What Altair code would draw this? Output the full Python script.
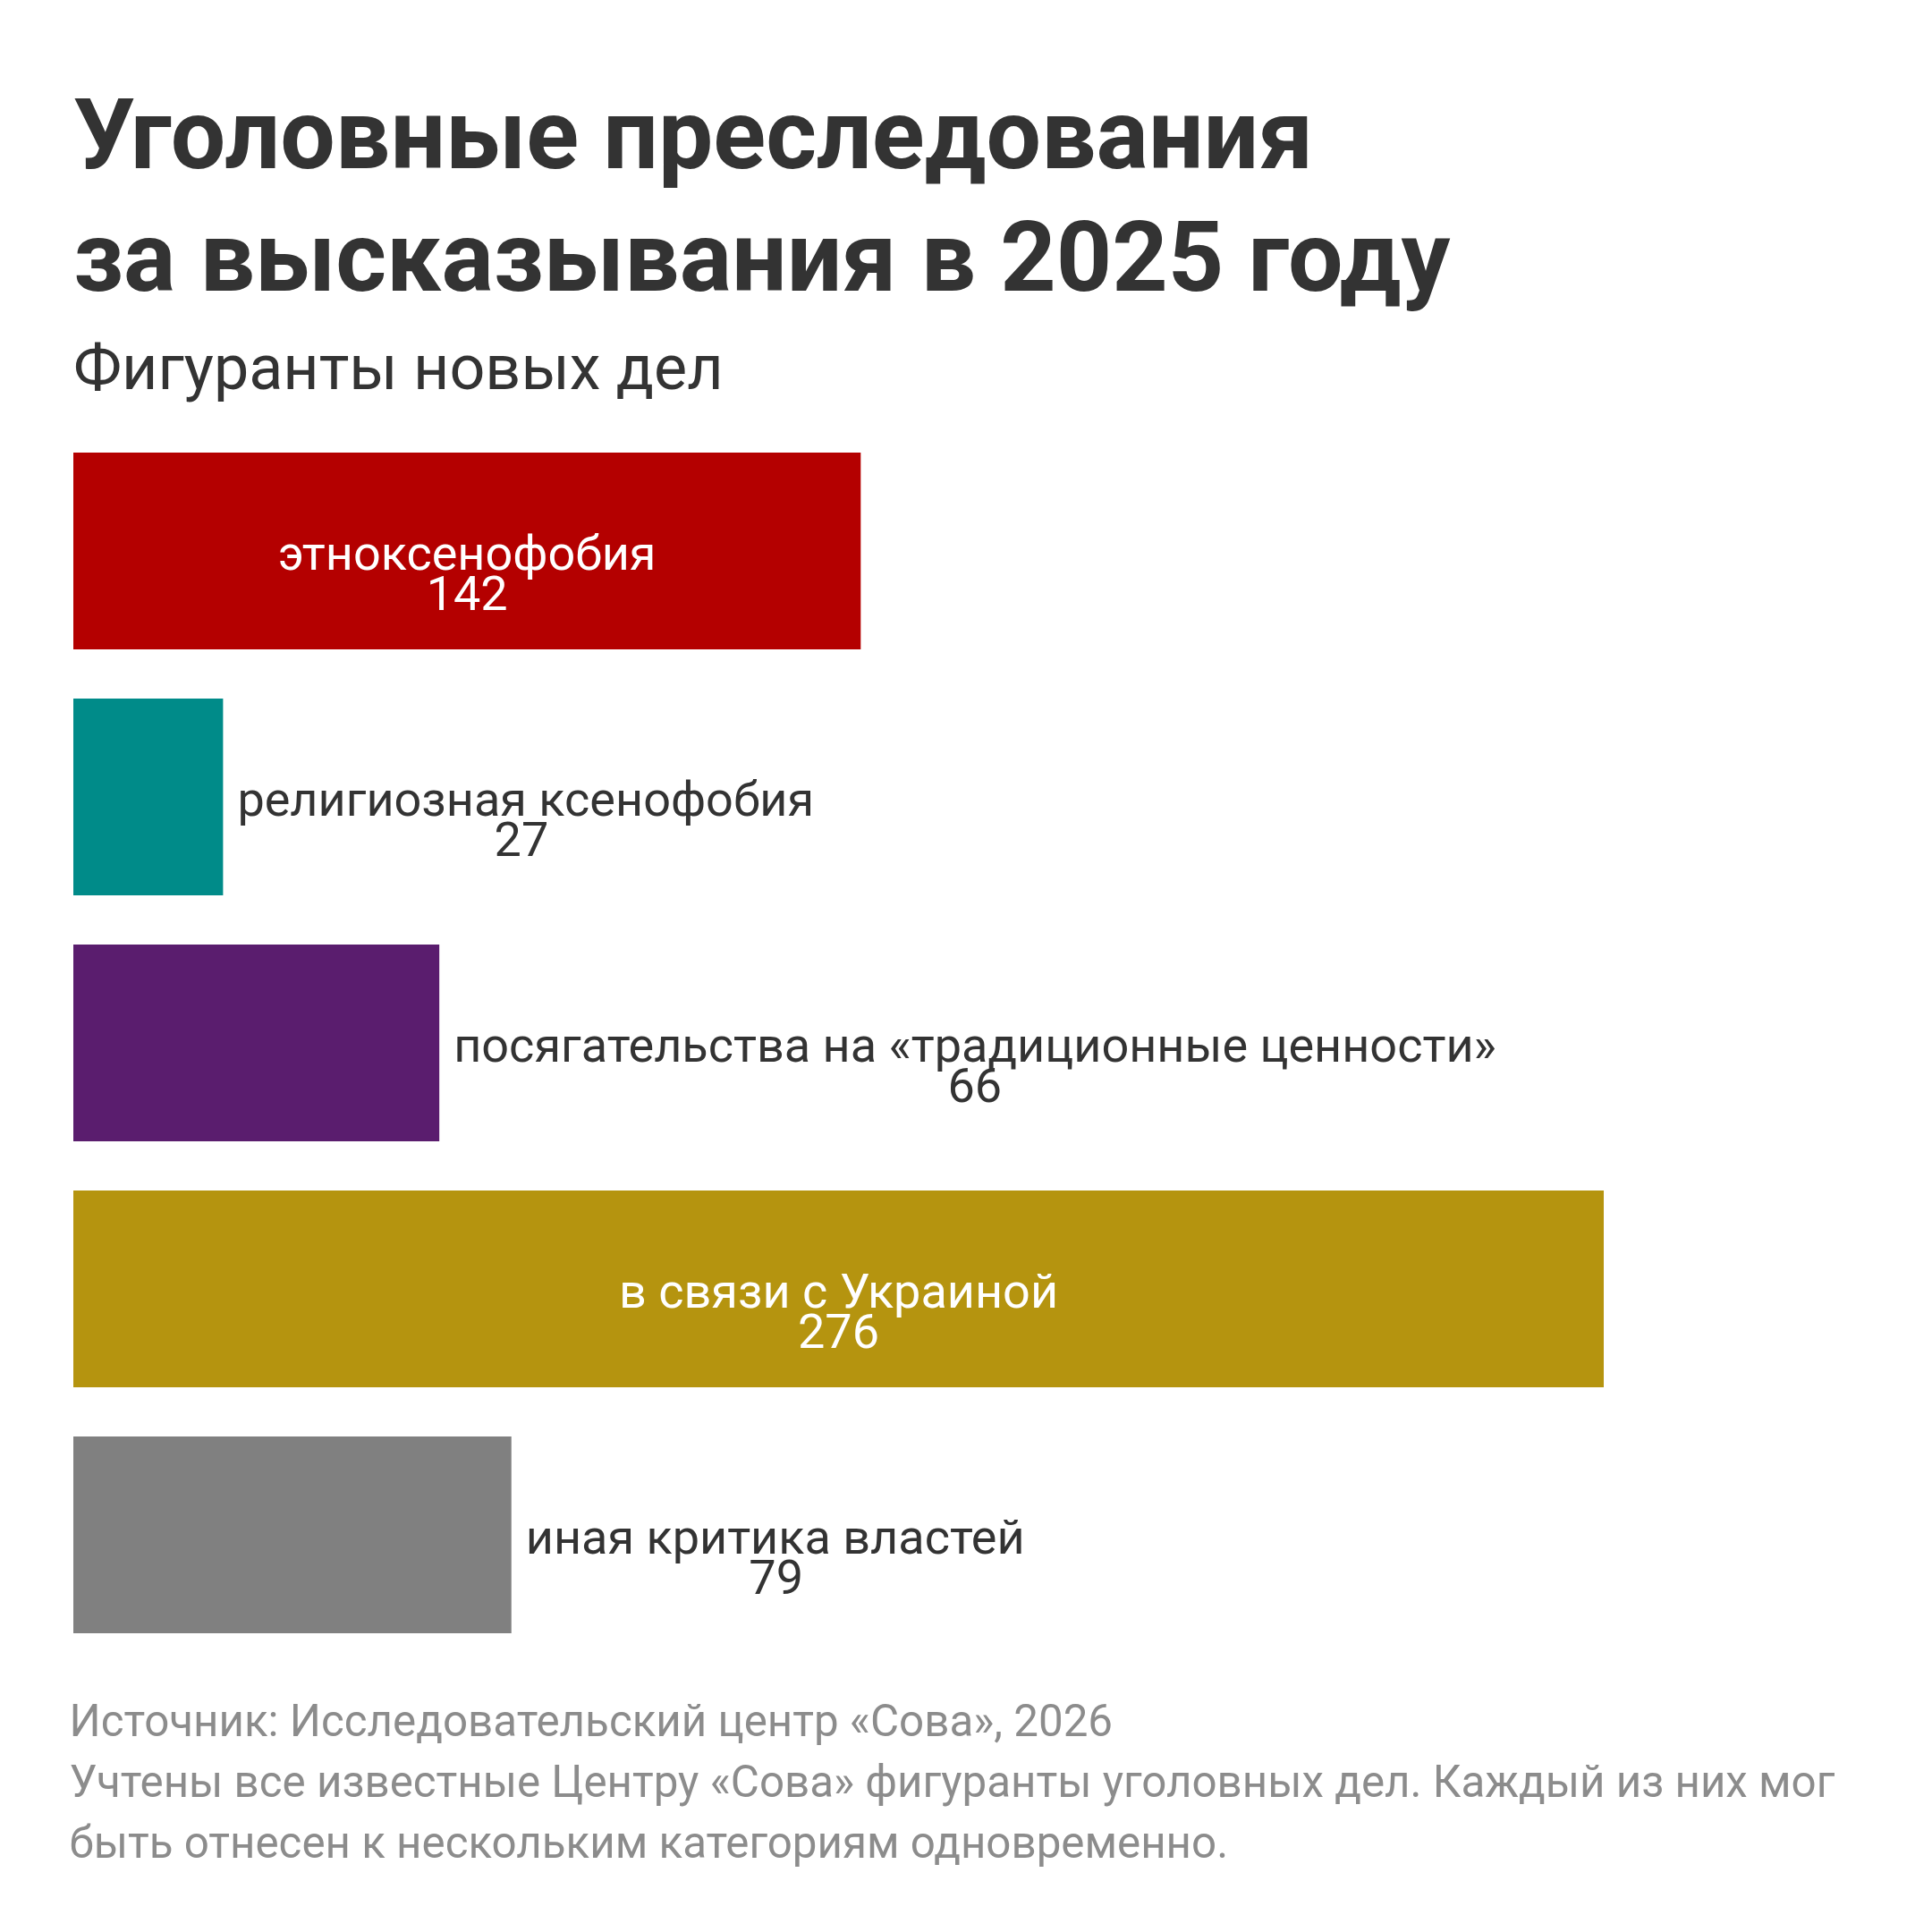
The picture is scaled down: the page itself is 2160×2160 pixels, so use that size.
import altair as alt
import pandas as pd

# ---- data ----
categories = [
    "этноксенофобия",
    "религиозная ксенофобия",
    "посягательства на «традиционные ценности»",
    "в связи с Украиной",
    "иная критика властей",
]
counts = [142, 27, 66, 276, 79]
colors = ["#b40000", "#008b89", "#5a1d6e", "#b5940f", "#808080"]

title_lines = ["Уголовные преследования", "за высказывания в 2025 году"]
subtitle_text = "Фигуранты новых дел"
footer_lines = [
    "Источник: Исследовательский центр «Сова», 2026",
    "Учтены все известные Центру «Сова» фигуранты уголовных дел. Каждый из них мог",
    "быть отнесен к нескольким категориям одновременно.",
]

# ---- style ----
FONT = "Roboto"
W, H = 1711, 1320
LABEL_SIZE = 54
CHAR_W = 29.6          # approx. advance of a non-space character in the label font (px)
SPACE_W = 13.5         # approx. advance of a space (px)
GAP = 16               # gap between bar end and outside label (px)
px_per_unit = W / max(counts)

df = pd.DataFrame({"cat": categories, "n": counts})

yenc = alt.Y(
    "cat:N",
    sort=categories,
    axis=None,
    scale=alt.Scale(paddingInner=0.2, paddingOuter=0),
)
xscale = alt.Scale(domain=[0, max(counts)], nice=False, zero=True)

base = alt.Chart(df)

bars = base.mark_bar().encode(
    y=yenc,
    x=alt.X(
        "n:Q",
        scale=xscale,
        axis=alt.Axis(
            domain=False, ticks=False, labels=False, grid=False,
            title=footer_lines,
            titleAnchor="start", titleAlign="left", titleBaseline="alphabetic",
            titleX=-5, titleY=114,
            titleFont=FONT, titleFontSize=49.3, titleFontWeight="normal",
            titleColor="#8c8c8c", titleLineHeight=68,
        ),
    ),
    color=alt.Color("cat:N", scale=alt.Scale(domain=categories, range=colors), legend=None),
)

label_w = (
    f"((length(datum.cat) - (length(split(datum.cat, ' ')) - 1)) * {CHAR_W}"
    f" + (length(split(datum.cat, ' ')) - 1) * {SPACE_W})"
)
fits = f"datum.n * {px_per_unit} > {label_w} + 40"

inside = base.transform_filter(fits).transform_calculate(
    xm="datum.n / 2", num="'' + datum.n"
)
inside_label = inside.mark_text(
    align="center", baseline="alphabetic", dy=21,
    font=FONT, fontSize=LABEL_SIZE, color="white",
).encode(y=yenc, x=alt.X("xm:Q", scale=xscale), text="cat:N")
inside_num = inside.mark_text(
    align="center", baseline="alphabetic", dy=66,
    font=FONT, fontSize=LABEL_SIZE, color="white",
).encode(y=yenc, x=alt.X("xm:Q", scale=xscale), text="num:N")

outside = base.transform_filter("!(" + fits + ")").transform_calculate(
    xn=f"datum.n + ({label_w} / 2 + {GAP}) / {px_per_unit}",
    num="'' + datum.n",
)
outside_label = outside.mark_text(
    align="left", baseline="alphabetic", dx=GAP, dy=21,
    font=FONT, fontSize=LABEL_SIZE, color="#333333",
).encode(y=yenc, x=alt.X("n:Q", scale=xscale), text="cat:N")
outside_num = outside.mark_text(
    align="center", baseline="alphabetic", dy=66,
    font=FONT, fontSize=LABEL_SIZE, color="#333333",
).encode(y=yenc, x=alt.X("xn:Q", scale=xscale), text="num:N")

chart = (
    alt.layer(bars, inside_label, inside_num, outside_label, outside_num)
    .properties(
        width=W,
        height=H,
        padding={"left": 74, "top": 498, "right": 359, "bottom": 326},
        autosize="none",
        title=alt.TitleParams(
            text=title_lines,
            subtitle=subtitle_text,
            anchor="start",
            frame="group",
            font=FONT,
            fontSize=109,
            fontWeight="bold",
            color="#333333",
            lineHeight=137,
            subtitleFont=FONT,
            subtitleFontSize=70,
            subtitleFontWeight="normal",
            subtitleColor="#333333",
            subtitlePadding=32,
            offset=56,
        ),
    )
    .configure(background="white")
    .configure_view(strokeWidth=0, stroke="transparent")
)

chart.save("out.html", embed_options={"renderer": "svg", "actions": False})
